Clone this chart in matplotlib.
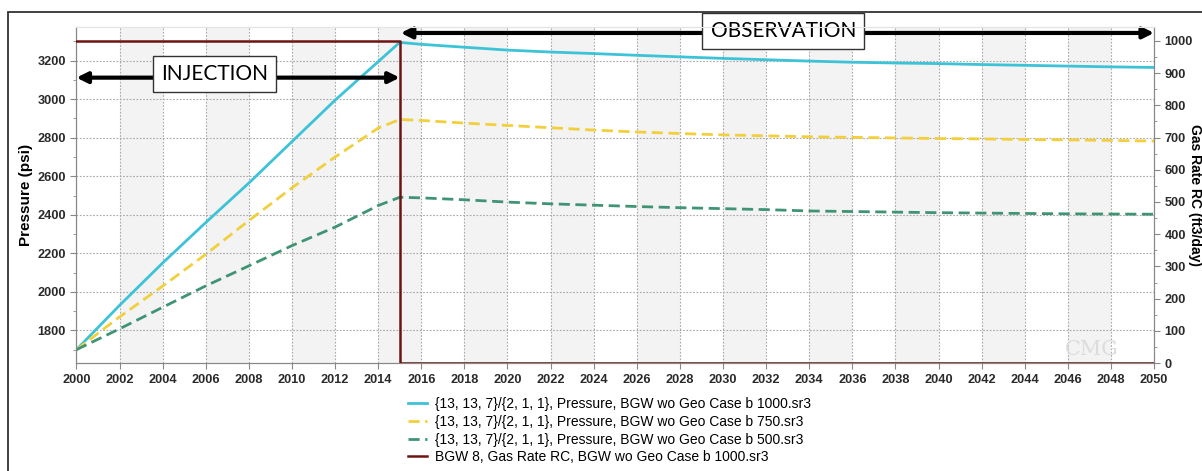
import matplotlib.pyplot as plt
from matplotlib.patches import Rectangle
from matplotlib.ticker import MultipleLocator

# pressure curves (psi)
years_inj = [2000, 2002, 2004, 2006, 2008, 2010, 2012, 2014, 2015]
years_obs = [2016, 2018, 2020, 2022, 2024, 2026, 2028, 2030, 2032, 2034,
             2036, 2038, 2040, 2042, 2044, 2046, 2048, 2050]
years = years_inj + years_obs

p_1000 = [1700, 1930, 2150, 2360, 2565, 2780, 2995, 3195, 3295,
          3285, 3270, 3255, 3245, 3237, 3228, 3220, 3212, 3205, 3198,
          3192, 3188, 3185, 3180, 3176, 3172, 3168, 3165]
p_750 = [1700, 1870, 2030, 2195, 2370, 2540, 2700, 2850, 2895,
         2890, 2876, 2864, 2852, 2840, 2830, 2822, 2815, 2810, 2805,
         2802, 2799, 2796, 2794, 2791, 2789, 2786, 2783]
p_500 = [1700, 1808, 1920, 2031, 2135, 2240, 2336, 2448, 2491,
         2488, 2478, 2466, 2457, 2450, 2443, 2437, 2432, 2427, 2420,
         2417, 2414, 2411, 2409, 2407, 2405, 2404, 2403]

# gas rate step (ft3/day)
rate_years = [2000, 2015, 2015, 2050]
rate = [1000, 1000, 0, 0]

labels = [
    "{13, 13, 7}/{2, 1, 1}, Pressure, BGW wo Geo Case b 1000.sr3",
    "{13, 13, 7}/{2, 1, 1}, Pressure, BGW wo Geo Case b 750.sr3",
    "{13, 13, 7}/{2, 1, 1}, Pressure, BGW wo Geo Case b 500.sr3",
    "BGW 8, Gas Rate RC, BGW wo Geo Case b 1000.sr3",
]

plt.rcParams['font.family'] = ['Liberation Sans', 'DejaVu Sans']

fig = plt.figure(figsize=(12.02, 4.71), dpi=100)
ax = fig.add_axes([0.0636, 0.229, 0.8965, 0.7137])
ax2 = ax.twinx()

# alternating column shading + dotted grid
for x0 in range(2002, 2050, 4):
    ax.axvspan(x0, x0 + 2, color='#f3f3f3', zorder=0, lw=0)
ax.grid(True, which='major', color='#a8a8a8', ls=(0, (1.5, 1.5)), lw=0.8)
ax.set_axisbelow(True)

c1, c2, c3, c4 = '#3cc3d8', '#f2cf3c', '#3f9474', '#6e1212'
l1, = ax.plot(years, p_1000, color=c1, lw=2, zorder=3)
l2, = ax.plot(years, p_750, color=c2, lw=2, ls=(0, (4, 2)), zorder=3)
l3, = ax.plot(years, p_500, color=c3, lw=2, ls=(0, (4, 2)), zorder=3)
l4, = ax2.plot(rate_years, rate, color=c4, lw=1.8, zorder=3)

ax.set_xlim(2000, 2050)
ax.set_ylim(1630, 3375)
ax2.set_ylim(0, 1043)
ax.set_xticks(range(2000, 2051, 2))
ax.set_yticks(range(1800, 3201, 200))
ax.yaxis.set_minor_locator(MultipleLocator(100))
ax2.set_yticks(range(0, 1001, 100))
ax2.yaxis.set_minor_locator(MultipleLocator(50))

tick_kw = dict(colors='#888888', labelcolor='#2a2a2a', labelsize=9.2, length=4)
ax.tick_params(axis='both', which='major', **tick_kw)
ax.tick_params(axis='y', which='minor', colors='#888888', length=2)
ax2.tick_params(axis='y', which='major', **tick_kw)
ax2.tick_params(axis='y', which='minor', colors='#888888', length=2)
for a in (ax, ax2):
    for lab in a.get_xticklabels() + a.get_yticklabels():
        lab.set_fontweight('bold')
    for s in a.spines.values():
        s.set_color('#888888')
    a.spines['top'].set_color('#e4e4e4')

fig.text(26 / 1202, 0.586, "Pressure (psi)", rotation=90, fontsize=11,
         fontweight='bold', ha='center', va='center')
fig.text(1195 / 1202, 0.586, "Gas Rate RC (ft3/day)", rotation=270, fontsize=10,
         fontweight='bold', ha='center', va='center')

# period annotations
arrow = dict(arrowstyle='<|-|>', lw=3, color='black', mutation_scale=16,
             shrinkA=0, shrinkB=0)
ax.annotate('', xy=(2000, 3112), xytext=(2015, 3112), arrowprops=arrow,
            annotation_clip=False, zorder=5)
ax.annotate('', xy=(2015.05, 3344), xytext=(2050, 3344), arrowprops=arrow,
            annotation_clip=False, zorder=5)
box = dict(boxstyle='square,pad=0.4', fc='white', ec='#333333', lw=1)
ax.text(2006.4, 3131, "INJECTION", fontsize=15, family=['Lato', 'DejaVu Sans'],
        ha='center', va='center', bbox=box, zorder=6)
ax.text(2032.8, 3354, "OBSERVATION", fontsize=15, family=['Lato', 'DejaVu Sans'],
        ha='center', va='center', bbox=box, zorder=6, clip_on=False)

ax.text(2047.1, 1700, "CMG", fontsize=15, family='DejaVu Serif', color='#dcdcdc',
        ha='center', va='center', zorder=2)

fig.legend([l1, l2, l3, l4], labels, loc='upper left',
           bbox_to_anchor=(408 / 1202, 0.157), frameon=False, fontsize=10,
           handlelength=1.37, handletextpad=0.58, labelspacing=0.27,
           borderpad=0, borderaxespad=0)

# outer frame
fig.patches.append(Rectangle((8 / 1202, -0.01), 1.0, (471 - 12) / 471 + 0.01,
                             transform=fig.transFigure, fill=False,
                             ec='#333333', lw=1.3))

fig.savefig("out.png", dpi=100)
